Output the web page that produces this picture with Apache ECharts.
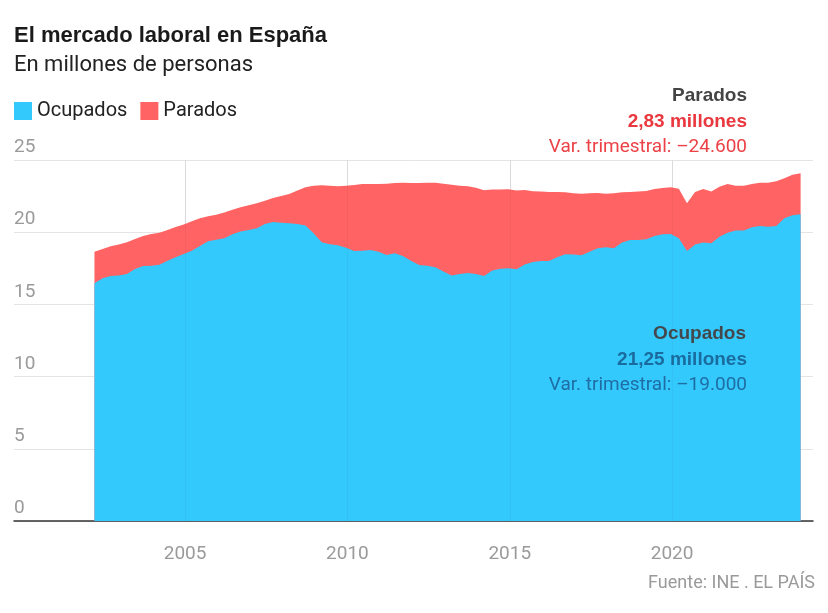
<!DOCTYPE html>
<html>
<head>
<meta charset="utf-8">
<script src="https://cdn.jsdelivr.net/npm/echarts@6/dist/echarts.min.js"></script>
<style>
html,body{margin:0;padding:0;background:#fff;}
#chart{width:828px;height:613px;}
</style>
</head>
<body>
<div id="chart"></div>
<script>
// Quarterly EPA data, 2002 T1 – 2023 T4 (millions of people)
const firstYear = 2002;
const ocupados = [16.46,16.81,16.97,17.01,17.10,17.45,17.66,17.68,17.75,18.03,
  18.26,18.49,18.72,19.04,19.37,19.48,19.58,19.85,20.04,20.15,
  20.27,20.57,20.71,20.66,20.62,20.57,20.47,19.92,19.30,19.16,
  19.09,18.93,18.70,18.72,18.77,18.65,18.42,18.54,18.35,18.03,
  17.73,17.68,17.57,17.27,17.01,17.11,17.17,17.11,16.97,17.34,
  17.47,17.50,17.43,17.77,17.94,18.01,18.01,18.26,18.47,18.45,
  18.40,18.65,18.88,18.95,18.88,19.28,19.46,19.46,19.51,19.74,
  19.85,19.88,19.58,18.70,19.14,19.28,19.23,19.69,19.97,20.11,
  20.11,20.34,20.43,20.38,20.43,20.96,21.17,21.25];
const parados = [2.19,2.03,2.05,2.13,2.20,2.08,2.08,2.20,2.22,2.12,
  2.10,2.05,2.03,1.92,1.73,1.73,1.79,1.71,1.68,1.71,
  1.73,1.61,1.66,1.85,2.03,2.31,2.64,3.30,3.95,4.06,
  4.09,4.29,4.57,4.62,4.57,4.69,4.94,4.87,5.08,5.38,
  5.68,5.75,5.86,6.09,6.28,6.11,6.01,5.97,5.93,5.61,
  5.48,5.47,5.45,5.15,4.89,4.80,4.77,4.52,4.29,4.24,
  4.27,4.04,3.83,3.72,3.81,3.48,3.32,3.35,3.34,3.25,
  3.21,3.23,3.43,3.30,3.64,3.71,3.58,3.46,3.37,3.11,
  3.11,3.00,3.00,3.05,3.09,2.77,2.81,2.83];
const xTicks = [2005, 2010, 2015, 2020];

// quarter positions (mid of the last month of each quarter)
const quarterPos = ocupados.map((_, i) => firstYear + Math.floor(i / 4) + ((i % 4) * 3 + 2.5) / 12);
// stacked top of the Parados band = ocupados + parados
const totalData = quarterPos.map((x, i) => [x, +(ocupados[i] + parados[i]).toFixed(2)]);
const ocupData = quarterPos.map((x, i) => [x, ocupados[i]]);

const FONT = 'Roboto, "Liberation Sans", sans-serif';
const BFONT = '"Liberation Sans", Arial, sans-serif';
const chart = echarts.init(document.getElementById('chart'), null, {renderer: 'canvas'});

chart.setOption({
  animation: false,
  backgroundColor: '#fff',
  textStyle: {fontFamily: FONT},
  grid: {left: 14, right: 15, top: 160, bottom: 92, containLabel: false},
  legend: {
    left: 14, top: 101, padding: 0, itemWidth: 18, itemHeight: 18, itemGap: 13, icon: 'rect',
    textStyle: {fontSize: 20, color: '#222', fontFamily: FONT},
    data: ['Ocupados', 'Parados']
  },
  xAxis: {
    type: 'value', min: 1999.73, max: 2024.34,
    axisLine: {show: true, lineStyle: {color: '#333', width: 1.5}},
    axisTick: {show: false, customValues: xTicks},
    splitLine: {show: true, customValues: xTicks, lineStyle: {color: '#e4e4e4', width: 1}},
    axisLabel: {
      show: true, customValues: xTicks, margin: 24,
      fontSize: 19, color: '#9a9a9a', fontFamily: FONT,
      formatter: v => String(Math.round(v))
    }
  },
  yAxis: {
    type: 'value', min: 0, max: 25, interval: 5,
    axisLine: {show: false}, axisTick: {show: false},
    splitLine: {show: true, lineStyle: {color: '#e4e4e4', width: 1}},
    axisLabel: {
      inside: true, margin: 0, align: 'left', verticalAlign: 'bottom',
      padding: [0, 0, 3, 0], fontSize: 19, color: '#9a9a9a', fontFamily: FONT
    }
  },
  series: [
    {
      name: 'Parados', type: 'line', showSymbol: false, z: 2,
      lineStyle: {width: 0}, itemStyle: {color: '#ff6363'},
      areaStyle: {color: '#ff6363', opacity: 1},
      data: totalData
    },
    {
      name: 'Ocupados', type: 'line', showSymbol: false, z: 3,
      lineStyle: {width: 0}, itemStyle: {color: '#33c9fd'},
      areaStyle: {color: '#33c9fd', opacity: 1},
      data: ocupData,
      markLine: {
        silent: true, symbol: 'none', label: {show: false},
        lineStyle: {color: 'rgba(0,0,0,0.035)', width: 1, type: 'solid'},
        data: xTicks.map(v => ({xAxis: v}))
      }
    }
  ],
  graphic: [
    {type: 'text', left: 14, top: 25, style: {text: 'El mercado laboral en España', font: 'bold 22px ' + BFONT, fill: '#1a1a1a'}},
    {type: 'text', left: 14, top: 54, style: {text: 'En millones de personas', font: '22px ' + FONT, fill: '#222'}},
    {type: 'text', x: 747, y: 96, style: {text: 'Parados', font: 'bold 19px ' + BFONT, fill: '#444', align: 'right', verticalAlign: 'middle'}},
    {type: 'text', x: 747, y: 122, style: {text: '2,83 millones', font: 'bold 19px ' + BFONT, fill: '#e9383e', align: 'right', verticalAlign: 'middle'}},
    {type: 'text', x: 747, y: 147, style: {text: 'Var. trimestral: –24.600', font: '19px ' + FONT, fill: '#ec4146', align: 'right', verticalAlign: 'middle'}},
    {type: 'text', x: 746, y: 334, z: 10, style: {text: 'Ocupados', font: 'bold 19px ' + BFONT, fill: '#44484c', align: 'right', verticalAlign: 'middle'}},
    {type: 'text', x: 747, y: 360, z: 10, style: {text: '21,25 millones', font: 'bold 19px ' + BFONT, fill: '#1a6c9e', align: 'right', verticalAlign: 'middle'}},
    {type: 'text', x: 747, y: 385, z: 10, style: {text: 'Var. trimestral: –19.000', font: '19px ' + FONT, fill: '#1f6da3', align: 'right', verticalAlign: 'middle'}},
    {type: 'text', x: 815, y: 583, style: {text: 'Fuente: INE . EL PAÍS', font: '18px ' + FONT, fill: '#9a9a9a', align: 'right', verticalAlign: 'middle'}}
  ]
});
</script>
</body>
</html>
